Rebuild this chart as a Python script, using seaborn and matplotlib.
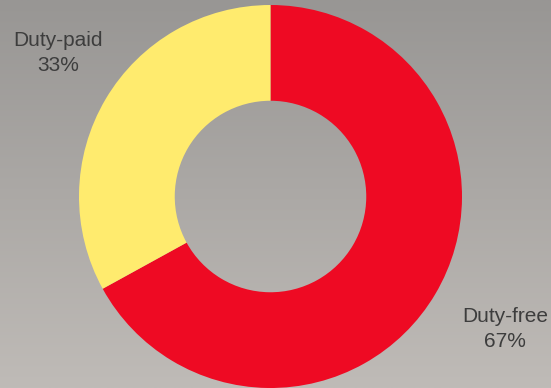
import numpy as np
import matplotlib
matplotlib.use("Agg")
import matplotlib.pyplot as plt
import seaborn as sns

# Sales split by channel
categories = ["Duty-free", "Duty-paid"]
shares = [67, 33]
colors = ["#EE0A23", "#FFEB6E"]

sns.set_style("white")
plt.rcParams["font.family"] = ["Liberation Sans", "DejaVu Sans"]

W, H, DPI = 551, 388, 100
fig = plt.figure(figsize=(W / DPI, H / DPI), dpi=DPI)

# Vertical grey gradient behind everything
bg = fig.add_axes([0, 0, 1, 1])
top = np.array([152, 150, 148]) / 255
bottom = np.array([191, 187, 183]) / 255
t = np.linspace(0, 1, 256)[:, None]
grad = top[None, :] * (1 - t) + bottom[None, :] * t
bg.imshow(grad[:, None, :], aspect="auto", extent=[0, 1, 0, 1])
bg.set_axis_off()

# Donut axes, mapped so one data unit = outer radius in pixels
R = 191.5
cx, cy = 270.5, 196.5
ax = fig.add_axes([0, 0, 1, 1])
ax.patch.set_alpha(0)
ax.pie(shares, colors=colors, startangle=90, counterclock=False,
       radius=1.0, wedgeprops=dict(width=0.5, linewidth=0))
ax.set_aspect("auto")
ax.set_xlim(-cx / R, (W - cx) / R)
ax.set_ylim(-(H - cy) / R, cy / R)
ax.set_axis_off()

def px(x, y):
    return (x - cx) / R, (cy - y) / R

label_pos = {"Duty-free": (505, 329), "Duty-paid": (58, 53)}
for cat, val in zip(categories, shares):
    x, y = px(*label_pos[cat])
    ax.text(x, y, f"{cat}\n{val}%", ha="center", va="center",
            fontsize=15, color="#3d3d3d", linespacing=1.38)

fig.savefig("out.png", dpi=DPI)
